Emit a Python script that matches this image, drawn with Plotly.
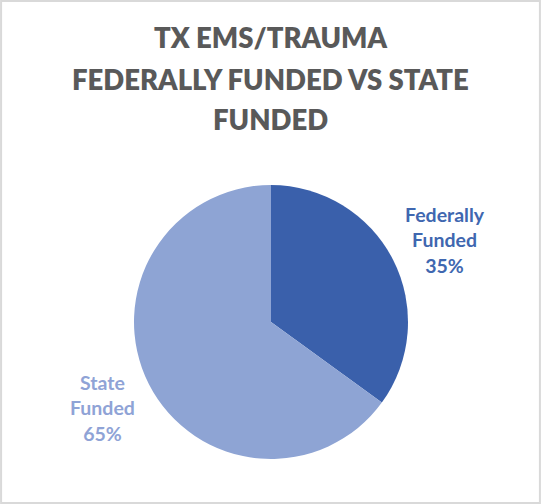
import plotly.graph_objects as go

# Chart data
labels = ["Federally Funded", "State Funded"]
label_lines = ["Federally<br>Funded", "State<br>Funded"]
values = [35, 65]
colors = ["#3A60AB", "#8EA4D4"]
text_colors = ["#4067B0", "#8FA3D6"]
title_lines = ["TX EMS/TRAUMA", "FEDERALLY FUNDED VS STATE", "FUNDED"]

W, H = 541, 504

fig = go.Figure(
    go.Pie(
        labels=labels,
        values=values,
        sort=False,
        direction="clockwise",
        rotation=0,
        marker=dict(colors=colors, line=dict(width=0)),
        textinfo="none",
        hoverinfo="label+percent",
        showlegend=False,
        domain=dict(x=[134 / W, 408 / W], y=[1 - 459 / H, 1 - 185 / H]),
    )
)

# Title, one annotation per line to match the line spacing
title_y = [38, 79, 119]
for line, yy in zip(title_lines, title_y):
    fig.add_annotation(
        text=line, x=0.5, y=1 - yy / H, xref="paper", yref="paper",
        showarrow=False, xanchor="center", yanchor="middle",
        font=dict(family="Lato", size=27.5, color="#595959", weight=800),
    )

# Data labels outside the pie
label_pos = [(445, 240), (102, 408)]
total = sum(values)
for txt, v, c, (px_, py_) in zip(label_lines, values, text_colors, label_pos):
    fig.add_annotation(
        text=f"{txt}<br>{round(100 * v / total)}%",
        x=px_ / W, y=1 - py_ / H, xref="paper", yref="paper",
        showarrow=False, xanchor="center", yanchor="middle", align="center",
        font=dict(family="Lato", size=19.5, color=c, weight="bold"),
    )

# Light frame around the chart
fig.add_shape(
    type="rect", xref="paper", yref="paper", x0=0.002, y0=0.002, x1=0.998, y1=0.998,
    line=dict(color="#D9D9D9", width=2),
)

fig.update_layout(
    width=W,
    height=H,
    margin=dict(l=0, r=0, t=0, b=0),
    paper_bgcolor="white",
    plot_bgcolor="white",
)

fig.write_html(
    "out.html",
    config={"displayModeBar": False},
    post_script="document.body.style.margin='0';document.body.style.overflow='hidden';",
)
